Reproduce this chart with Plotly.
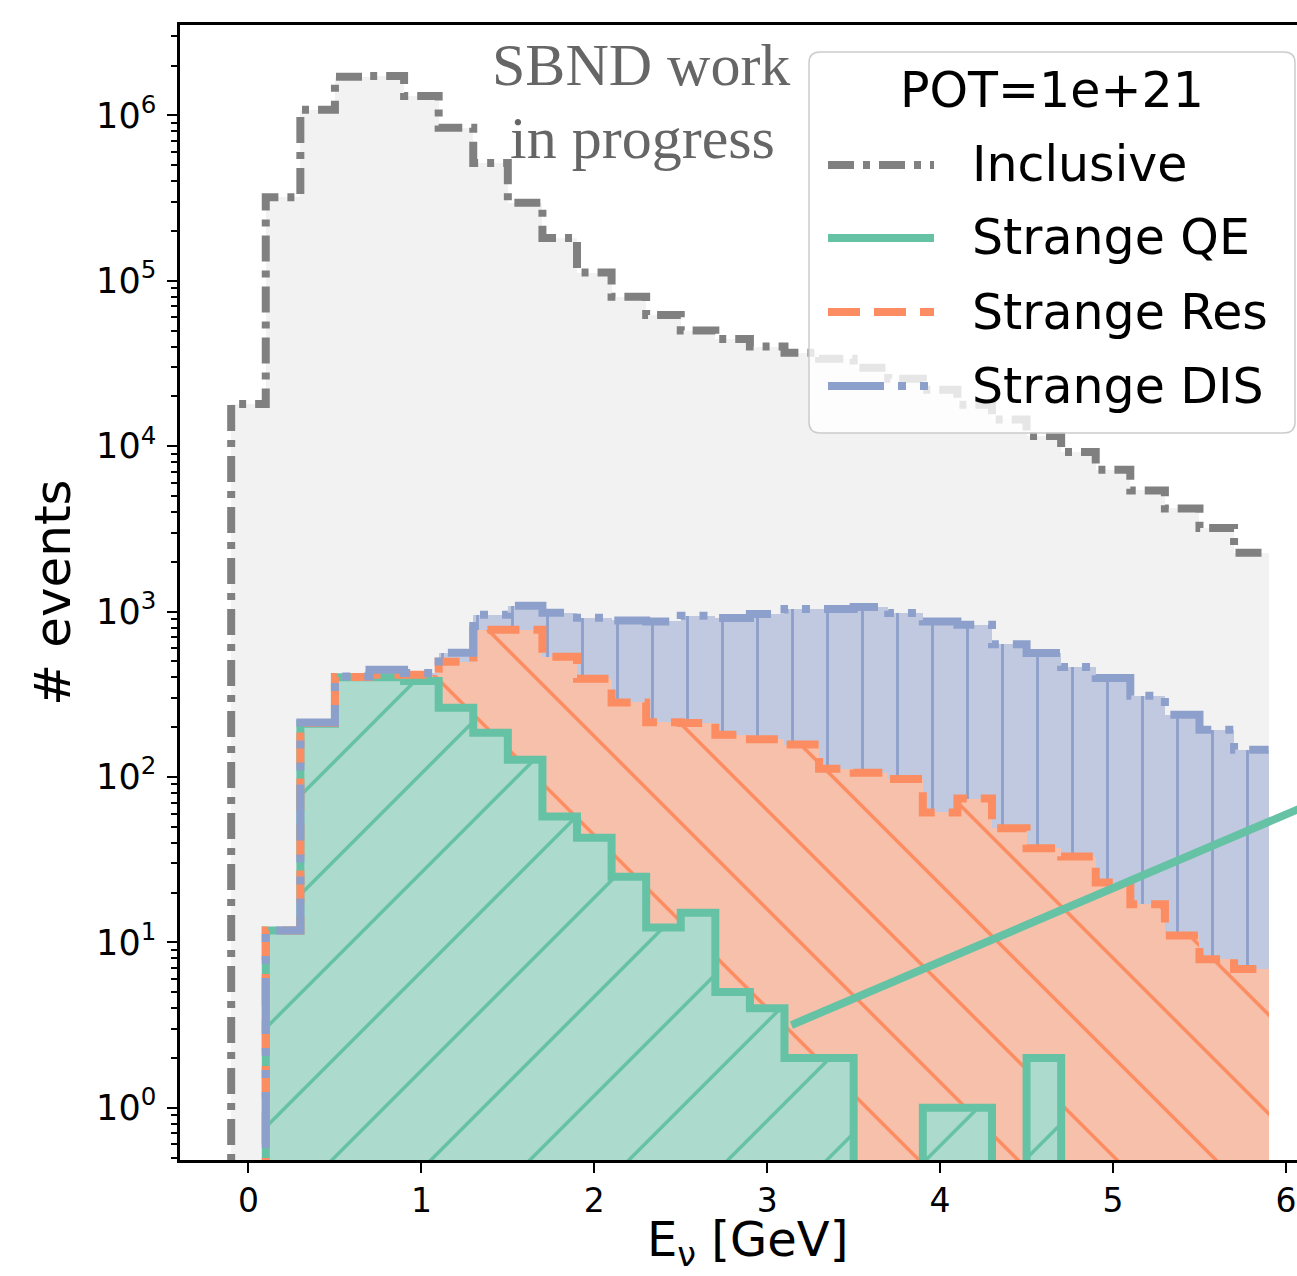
import numpy as np
import plotly.graph_objects as go

# ---------------- data ----------------
BIN_WIDTH = 0.2
INCL_FIRST_EDGE = -0.1
STRANGE_FIRST_EDGE = 0.1

# Inclusive, 30 bins from -0.1 to 5.9 GeV
inclusive = [1.8e4, 3.2e5, 1.08e6, 1.71e6, 1.73e6, 1.31e6, 8.4e5, 5.15e5, 2.96e5, 1.81e5,
             1.12e5, 8.0e4, 6.2e4, 5.0e4, 4.45e4, 4.0e4, 3.67e4, 3.37e4, 2.98e4, 2.55e4,
             2.19e4, 1.78e4, 1.45e4, 1.15e4, 9.2e3, 7.2e3, 5.4e3, 4.2e3, 3.2e3, 2.27e3]

# Strange channels, 29 bins from 0.1 to 5.9 GeV (stacked: QE, Res, DIS)
strange_qe = [11.8, 210, 400, 400, 380, 262, 185, 127, 57.7, 42.9,
              24.9, 12.3, 15.1, 5, 4, 2, 2, 0, 0, 1,
              1, 0, 2, 0, 0, 0, 0, 0, 0]
strange_res = [0, 2, 2, 15, 35, 235, 592, 650, 475, 350,
               257, 202, 197, 175, 165, 155, 110, 106, 97, 60,
               73, 49, 35, 33, 23, 17, 11, 7.9, 6.9]
strange_dis = [0, 1, 3, 30, 10, 67, 178, 307, 452, 525,
               602, 657, 732, 733, 797, 879, 924, 959, 882, 810,
               758, 586, 524, 429, 373, 293, 227, 185, 139]

# stray straight segment of the Strange QE curve seen in the picture
qe_stray_x = [3.14, 6.5]
qe_stray_y = [3.16, 99]

legend_title = "POT=1e+21"
labels = ["Inclusive", "Strange QE", "Strange Res", "Strange DIS"]
x_label = "E<sub>ν</sub> [GeV]"
y_label = "# events"

x_ticks = [0, 1, 2, 3, 4, 5, 6]
y_ticks = [1, 10, 100, 1e3, 1e4, 1e5, 1e6]
y_ticktext = ["10<sup>%d</sup>" % i for i in range(7)]

# ---------------- styling ----------------
C_INCL = "#808080"
C_QE = "#66c2a5"
C_RES = "#fc8d62"
C_DIS = "#8da0cb"
DASH_INCL = "26px,9px,7px,9px"
DASH_RES = "32px,14px"
DASH_DIS = "56px,14px,8px,14px,8px,14px"
LW = 8
FONT = "DejaVu Sans"

W, H = 1297, 1276
ML, MR, MT, MB = 180, 0, 25, 116
PW, PH = W - ML - MR, H - MT - MB


def px2paper(px, py):
    return (px - ML) / PW, (H - MB - py) / PH


def edges(first, n):
    return np.round(first + BIN_WIDTH * np.arange(n + 1), 3)


def step_xy(first, values, floor=1e-3):
    v = np.asarray(values, dtype=float)
    v = np.where(v > 0, v, floor)
    e = edges(first, len(v))
    x = np.concatenate([[e[0]], e])
    y = np.concatenate([[floor], v, [v[-1]]])
    return x, y


inc = np.asarray(inclusive, float)
qe = np.asarray(strange_qe, float)
res = np.asarray(strange_res, float)
dis = np.asarray(strange_dis, float)
res_top = qe + res
dis_top = res_top + dis

e_inc = edges(INCL_FIRST_EDGE, len(inc))
e_str = edges(STRANGE_FIRST_EDGE, len(qe))
c_inc = (e_inc[:-1] + e_inc[1:]) / 2
c_str = (e_str[:-1] + e_str[1:]) / 2

fig = go.Figure()

# ---------- filled areas ----------
fig.add_trace(go.Bar(x=c_inc, y=inc, width=BIN_WIDTH,
                     marker=dict(color="rgba(128,128,128,0.1)", line=dict(width=0)),
                     showlegend=False, hoverinfo="skip"))
fig.add_trace(go.Bar(x=c_str, y=qe, width=BIN_WIDTH,
                     marker=dict(color="rgba(102,194,165,0.5)", line=dict(width=0),
                                 pattern=dict(shape="/", fgcolor=C_QE, bgcolor="rgba(102,194,165,0.5)",
                                              fgopacity=1, size=70, solidity=0.05, fillmode="overlay")),
                     showlegend=False, hoverinfo="skip"))
fig.add_trace(go.Bar(x=c_str, y=res, base=qe, width=BIN_WIDTH,
                     marker=dict(color="rgba(252,141,98,0.5)", line=dict(width=0),
                                 pattern=dict(shape="\\", fgcolor=C_RES, bgcolor="rgba(252,141,98,0.5)",
                                              fgopacity=1, size=70, solidity=0.05, fillmode="overlay")),
                     showlegend=False, hoverinfo="skip"))
fig.add_trace(go.Bar(x=c_str, y=dis, base=res_top, width=BIN_WIDTH,
                     marker=dict(color="rgba(141,160,203,0.5)", line=dict(width=0),
                                 pattern=dict(shape="|", fgcolor=C_DIS, bgcolor="rgba(141,160,203,0.5)",
                                              fgopacity=1, size=35, solidity=0.08, fillmode="overlay")),
                     showlegend=False, hoverinfo="skip"))

# ---------- step outlines ----------
x, y = step_xy(INCL_FIRST_EDGE, inc)
fig.add_trace(go.Scatter(x=x, y=y, mode="lines", line=dict(shape="hv", color=C_INCL, width=LW, dash=DASH_INCL),
                         showlegend=False, hoverinfo="skip"))
x, y = step_xy(STRANGE_FIRST_EDGE, qe)
fig.add_trace(go.Scatter(x=x, y=y, mode="lines", line=dict(shape="hv", color=C_QE, width=LW),
                         showlegend=False, hoverinfo="skip"))
x, y = step_xy(STRANGE_FIRST_EDGE, res_top)
fig.add_trace(go.Scatter(x=x, y=y, mode="lines", line=dict(shape="hv", color=C_RES, width=LW, dash=DASH_RES),
                         showlegend=False, hoverinfo="skip"))
x, y = step_xy(STRANGE_FIRST_EDGE, dis_top)
fig.add_trace(go.Scatter(x=x, y=y, mode="lines", line=dict(shape="hv", color=C_DIS, width=LW, dash=DASH_DIS),
                         showlegend=False, hoverinfo="skip"))
fig.add_trace(go.Scatter(x=qe_stray_x, y=qe_stray_y, mode="lines", line=dict(color=C_QE, width=LW),
                         showlegend=False, hoverinfo="skip"))

# ---------- custom legend (box, samples, text) ----------
shapes = []
bx0, by0, bx1, by1, r = 809, 52, 1295, 433, 11
X0, Y0 = px2paper(bx0, by0)
X1, Y1 = px2paper(bx1, by1)
rx, ry = r / PW, r / PH
path = (f"M{X0+rx},{Y0} L{X1-rx},{Y0} Q{X1},{Y0} {X1},{Y0-ry} "
        f"L{X1},{Y1+ry} Q{X1},{Y1} {X1-rx},{Y1} L{X0+rx},{Y1} Q{X0},{Y1} {X0},{Y1+ry} "
        f"L{X0},{Y0-ry} Q{X0},{Y0} {X0+rx},{Y0} Z")
shapes.append(dict(type="path", path=path, xref="paper", yref="paper",
                   fillcolor="rgba(255,255,255,0.8)", line=dict(color="#cccccc", width=1.5), layer="above"))

rows_y = [165, 238, 312, 386]
styles = [(C_INCL, DASH_INCL), (C_QE, "solid"), (C_RES, DASH_RES), (C_DIS, DASH_DIS)]
annotations = []
for ry_px, (col, dsh), lab in zip(rows_y, styles, labels):
    a0, b0 = px2paper(828, ry_px)
    a1, _ = px2paper(934, ry_px)
    shapes.append(dict(type="line", xref="paper", yref="paper", x0=a0, x1=a1, y0=b0, y1=b0,
                       line=dict(color=col, width=LW, dash=dsh), layer="above"))
    tx, ty = px2paper(970, ry_px)
    annotations.append(dict(text=lab, x=tx, y=ty, xref="paper", yref="paper", xanchor="left",
                            yanchor="middle", showarrow=False, font=dict(family=FONT, size=49, color="black")))
tx, ty = px2paper(1052, 91)
annotations.append(dict(text=legend_title, x=tx, y=ty, xref="paper", yref="paper", xanchor="center",
                        yanchor="middle", showarrow=False, font=dict(family=FONT, size=49, color="black")))

# watermark
for txt, (wx, wy) in [("SBND work", (641, 65)), ("in progress", (642, 138))]:
    ax_, ay_ = px2paper(wx, wy)
    annotations.append(dict(text=txt, x=ax_, y=ay_, xref="paper", yref="paper", xanchor="center",
                            yanchor="middle", showarrow=False,
                            font=dict(family="Liberation Serif", size=60, color="#666666")))

# x-axis label (placed where the reference centres it)
lx, ly = px2paper(747, 1242)
annotations.append(dict(text=x_label, x=lx, y=ly, xref="paper", yref="paper", xanchor="center",
                        yanchor="middle", showarrow=False, font=dict(family=FONT, size=48, color="black")))

fig.update_layout(
    width=W, height=H,
    margin=dict(l=ML, r=MR, t=MT, b=MB, pad=0),
    paper_bgcolor="white", plot_bgcolor="white",
    barmode="overlay", bargap=0,
    showlegend=False,
    shapes=shapes, annotations=annotations,
    font=dict(family=FONT, color="black"),
    xaxis=dict(range=[-0.396, 6.064], tickmode="array", tickvals=x_ticks,
               ticks="outside", ticklen=10, tickwidth=2, tickcolor="black",
               showline=True, linecolor="black", linewidth=2.5, mirror=True,
               showgrid=False, zeroline=False, tickfont=dict(family=FONT, size=33),
               automargin=False),
    yaxis=dict(type="log", range=[-0.316, 6.546], tickmode="array", tickvals=y_ticks, ticktext=y_ticktext,
               ticks="outside", ticklen=10, tickwidth=2, tickcolor="black", ticklabelstandoff=4,
               minor=dict(ticks="outside", ticklen=6, tickwidth=1.5, tickcolor="black", dtick="D1", showgrid=False),
               showline=True, linecolor="black", linewidth=2.5, mirror=False,
               showgrid=False, zeroline=False, tickfont=dict(family=FONT, size=35),
               title=dict(text=y_label, font=dict(family=FONT, size=50), standoff=10),
               automargin=False),
)

fig.write_html("out.html")
